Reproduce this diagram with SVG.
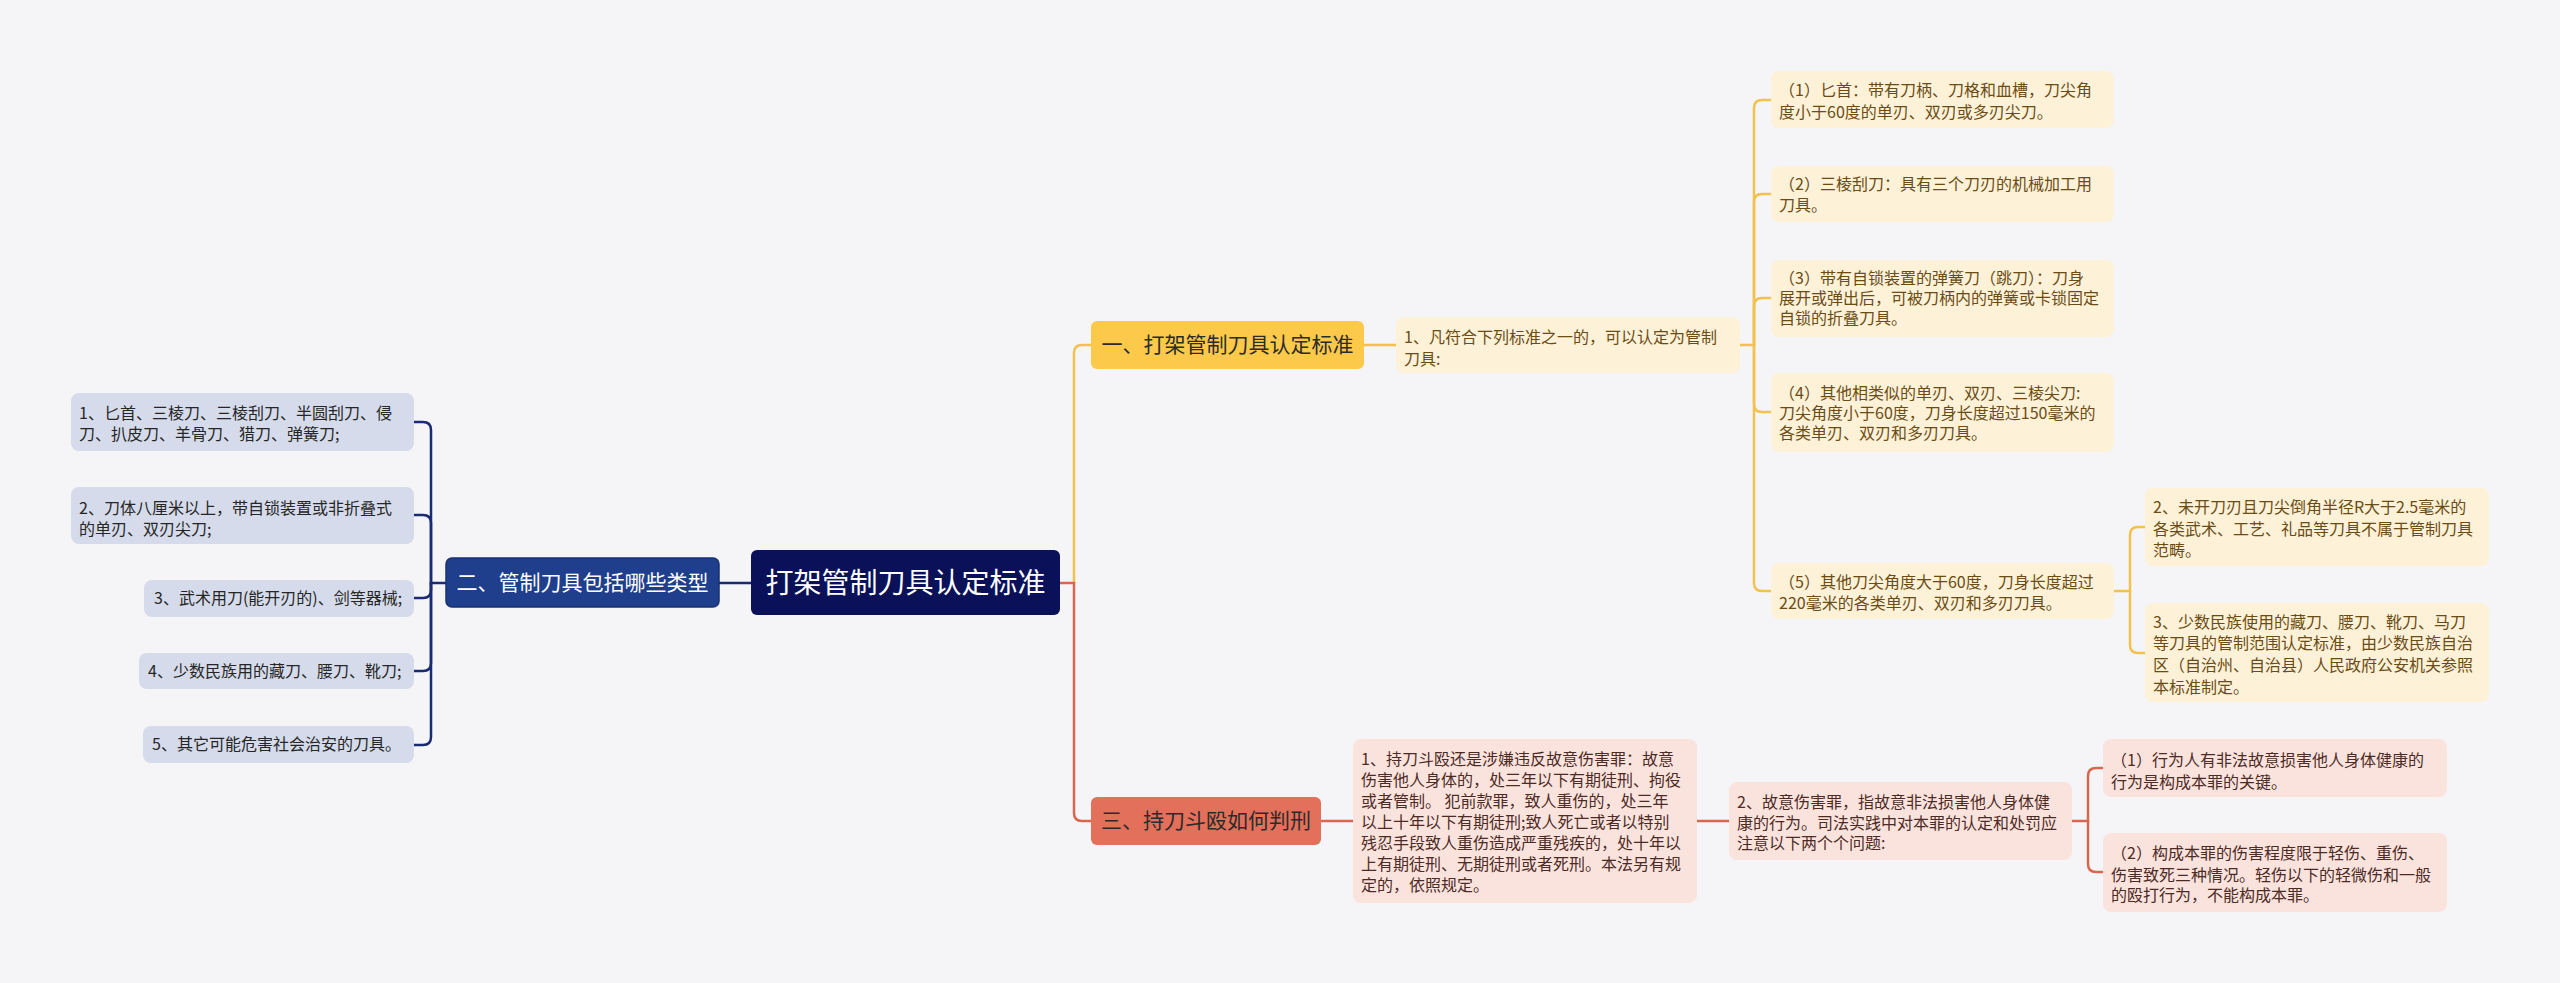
<svg xmlns="http://www.w3.org/2000/svg" width="2560" height="983" viewBox="0 0 2560 983">
<style>
text{font-family:"Noto Sans CJK SC","Noto Sans",sans-serif;}
.leaf{font-size:16px;}
.lb rect{fill:#d5dbea;}
.lb text{fill:#262626;}
.ly rect{fill:#fdf1d7;}
.ly text{fill:#6b4c14;}
.lr rect{fill:#fbe3dd;}
.lr text{fill:#4d2b25;}
.cn{fill:none;stroke-width:2.5;stroke-linecap:round;}
.cb{stroke:#1b2b73;}
.cy{stroke:#f3c14e;}
.cr{stroke:#d9664f;}
.main{font-size:21px;}
</style>
<rect x="0" y="0" width="2560" height="983" fill="#f5f5f7"/>
<g id="connectors">
<path class="cn cb" d="M719,583 H751"/>
<path class="cn cb" d="M446,583 H431 V430 Q431,422 423,422 H414"/>
<path class="cn cb" d="M431,583 V523 Q431,515 423,515 H414"/>
<path class="cn cb" d="M431,583 V590 Q431,598 423,598 H414"/>
<path class="cn cb" d="M431,583 V663 Q431,671 423,671 H414"/>
<path class="cn cb" d="M431,583 V737 Q431,745 423,745 H414"/>
<path class="cn cy" d="M1074,583 V353 Q1074,345 1082,345 H1091"/>
<path class="cn cr" d="M1060,583 H1074 V813 Q1074,821 1082,821 H1091"/>
<path class="cn cy" d="M1364,345 H1396"/>
<path class="cn cy" d="M1740,345 H1754 V108 Q1754,100 1762,100 H1771"/>
<path class="cn cy" d="M1754,345 V202 Q1754,194 1762,194 H1771"/>
<path class="cn cy" d="M1754,345 V306 Q1754,298 1762,298 H1771"/>
<path class="cn cy" d="M1754,345 V404 Q1754,412 1762,412 H1771"/>
<path class="cn cy" d="M1754,345 V583 Q1754,591 1762,591 H1771"/>
<path class="cn cy" d="M2114,591 H2130 V535 Q2130,527 2138,527 H2145"/>
<path class="cn cy" d="M2130,591 V645 Q2130,653 2138,653 H2145"/>
<path class="cn cr" d="M1321,821 H1353"/>
<path class="cn cr" d="M1697,821 H1729"/>
<path class="cn cr" d="M2072,821 H2088 V776 Q2088,768 2096,768 H2103"/>
<path class="cn cr" d="M2088,821 V864 Q2088,872 2096,872 H2103"/>
</g>
<g id="root">
<rect x="751" y="550" width="309" height="65" rx="6" fill="#0a1158"/>
<text x="905.5" y="593" font-size="28" fill="#ffffff" text-anchor="middle">打架管制刀具认定标准</text>
</g>
<g id="b2">
<rect x="446" y="558" width="273" height="49" rx="6" fill="#1f3e8c" stroke="#173273" stroke-width="1.5"/>
<text class="main" x="582.5" y="590" fill="#ffffff" text-anchor="middle">二、管制刀具包括哪些类型</text>
</g>
<g id="b2-1" class="lb leaf">
<rect x="71" y="393" width="343" height="58" rx="8"/>
<text x="79" y="419">1、匕首、三棱刀、三棱刮刀、半圆刮刀、侵<tspan x="79" y="440">刀、扒皮刀、羊骨刀、猎刀、弹簧刀;</tspan></text>
</g>
<g id="b2-2" class="lb leaf">
<rect x="71" y="487" width="343" height="57" rx="8"/>
<text x="79" y="514">2、刀体八厘米以上，带自锁装置或非折叠式<tspan x="79" y="535">的单刃、双刃尖刀;</tspan></text>
</g>
<g id="b2-3" class="lb leaf">
<rect x="144" y="580" width="270" height="37" rx="8"/>
<text x="154" y="604">3、武术用刀(能开刃的)、剑等器械;</text>
</g>
<g id="b2-4" class="lb leaf">
<rect x="139" y="653" width="275" height="36" rx="8"/>
<text x="148" y="677">4、少数民族用的藏刀、腰刀、靴刀;</text>
</g>
<g id="b2-5" class="lb leaf">
<rect x="143" y="726" width="271" height="37" rx="8"/>
<text x="152" y="750">5、其它可能危害社会治安的刀具。</text>
</g>
<g id="b1">
<rect x="1091" y="321" width="273" height="48" rx="6" fill="#fcc94a"/>
<text class="main" x="1227.5" y="352" fill="#2b2b2b" text-anchor="middle">一、打架管制刀具认定标准</text>
</g>
<g id="b1-1" class="ly leaf">
<rect x="1396" y="317" width="344" height="56" rx="8"/>
<text x="1404" y="343">1、凡符合下列标准之一的，可以认定为管制<tspan x="1404" y="365">刀具:</tspan></text>
</g>
<g id="b1-1-1" class="ly leaf">
<rect x="1771" y="71" width="343" height="57" rx="8"/>
<text x="1779" y="96">（1）匕首：带有刀柄、刀格和血槽，刀尖角<tspan x="1779" y="118">度小于60度的单刃、双刃或多刃尖刀。</tspan></text>
</g>
<g id="b1-1-2" class="ly leaf">
<rect x="1771" y="166" width="343" height="56" rx="8"/>
<text x="1779" y="190">（2）三棱刮刀：具有三个刀刃的机械加工用<tspan x="1779" y="211">刀具。</tspan></text>
</g>
<g id="b1-1-3" class="ly leaf">
<rect x="1771" y="260" width="343" height="77" rx="8"/>
<text x="1779" y="284">（3）带有自锁装置的弹簧刀（跳刀）：刀身<tspan x="1779" y="304">展开或弹出后，可被刀柄内的弹簧或卡锁固定</tspan><tspan x="1779" y="324">自锁的折叠刀具。</tspan></text>
</g>
<g id="b1-1-4" class="ly leaf">
<rect x="1771" y="373" width="343" height="79" rx="8"/>
<text x="1779" y="399">（4）其他相类似的单刃、双刃、三棱尖刀:<tspan x="1779" y="419">刀尖角度小于60度，刀身长度超过150毫米的</tspan><tspan x="1779" y="439">各类单刃、双刃和多刃刀具。</tspan></text>
</g>
<g id="b1-1-5" class="ly leaf">
<rect x="1771" y="563" width="343" height="56" rx="8"/>
<text x="1779" y="588">（5）其他刀尖角度大于60度，刀身长度超过<tspan x="1779" y="609">220毫米的各类单刃、双刃和多刃刀具。</tspan></text>
</g>
<g id="b1-1-5-2" class="ly leaf">
<rect x="2145" y="488" width="344" height="78" rx="8"/>
<text x="2153" y="513">2、未开刀刃且刀尖倒角半径R大于2.5毫米的<tspan x="2153" y="535">各类武术、工艺、礼品等刀具不属于管制刀具</tspan><tspan x="2153" y="556">范畴。</tspan></text>
</g>
<g id="b1-1-5-3" class="ly leaf">
<rect x="2145" y="603" width="344" height="99" rx="8"/>
<text x="2153" y="628">3、少数民族使用的藏刀、腰刀、靴刀、马刀<tspan x="2153" y="649">等刀具的管制范围认定标准，由少数民族自治</tspan><tspan x="2153" y="671">区（自治州、自治县）人民政府公安机关参照</tspan><tspan x="2153" y="693">本标准制定。</tspan></text>
</g>
<g id="b3">
<rect x="1091" y="797" width="230" height="48" rx="6" fill="#e2705a"/>
<text class="main" x="1206" y="828" fill="#2b2b2b" text-anchor="middle">三、持刀斗殴如何判刑</text>
</g>
<g id="b3-1" class="lr leaf">
<rect x="1353" y="739" width="344" height="164" rx="8"/>
<text x="1361" y="765">1、持刀斗殴还是涉嫌违反故意伤害罪：故意<tspan x="1361" y="786">伤害他人身体的，处三年以下有期徒刑、拘役</tspan><tspan x="1361" y="807">或者管制。 犯前款罪，致人重伤的，处三年</tspan><tspan x="1361" y="828">以上十年以下有期徒刑;致人死亡或者以特别</tspan><tspan x="1361" y="849">残忍手段致人重伤造成严重残疾的，处十年以</tspan><tspan x="1361" y="870">上有期徒刑、无期徒刑或者死刑。本法另有规</tspan><tspan x="1361" y="891">定的，依照规定。</tspan></text>
</g>
<g id="b3-2" class="lr leaf">
<rect x="1729" y="782" width="343" height="78" rx="8"/>
<text x="1737" y="808">2、故意伤害罪，指故意非法损害他人身体健<tspan x="1737" y="829">康的行为。司法实践中对本罪的认定和处罚应</tspan><tspan x="1737" y="849">注意以下两个个问题:</tspan></text>
</g>
<g id="b3-2-1" class="lr leaf">
<rect x="2103" y="739" width="344" height="58" rx="8"/>
<text x="2111" y="766">（1）行为人有非法故意损害他人身体健康的<tspan x="2111" y="788">行为是构成本罪的关键。</tspan></text>
</g>
<g id="b3-2-2" class="lr leaf">
<rect x="2103" y="833" width="344" height="79" rx="8"/>
<text x="2111" y="859">（2）构成本罪的伤害程度限于轻伤、重伤、<tspan x="2111" y="881">伤害致死三种情况。轻伤以下的轻微伤和一般</tspan><tspan x="2111" y="901">的殴打行为，不能构成本罪。</tspan></text>
</g>
</svg>
